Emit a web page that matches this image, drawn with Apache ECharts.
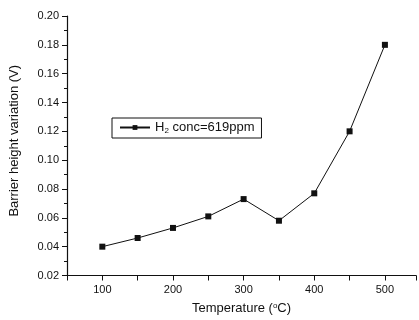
<!DOCTYPE html>
<html><head><meta charset="utf-8">
<script src="https://cdn.jsdelivr.net/npm/echarts@6/dist/echarts.min.js"></script>
<style>html,body{margin:0;padding:0;background:#fff}#c{width:419px;height:320px}</style>
</head><body><div id="c"></div>
<script>
const temperatures = [100, 150, 200, 250, 300, 350, 400, 450, 500];
const barrierHeight = [0.040, 0.046, 0.053, 0.061, 0.073, 0.058, 0.077, 0.120, 0.180];
const seriesName = 'H2 conc=619ppm';
const xTicks = [100, 200, 300, 400, 500];

const chart = echarts.init(document.getElementById('c'));
const font = 'Liberation Sans, Arial, sans-serif';
chart.setOption({
  animation: false,
  backgroundColor: '#fff',
  grid: { left: 67, top: 16, right: 0, bottom: 44 },
  xAxis: {
    type: 'value', min: 50, max: 544, interval: 50,
    name: 'Temperature ({sup|o}C)', nameLocation: 'middle', nameGap: 26,
    nameTextStyle: { color: '#111', fontSize: 13, fontFamily: font, rich: { sup: { fontSize: 8, verticalAlign: 'top', padding: [0,0,6,0], color:'#111' } } },
    axisLine: { show: true, lineStyle: { color: '#111', width: 1.2 } },
    axisTick: { show: true, inside: false, length: 5, lineStyle: { color: '#111' } },
    axisLabel: { color: '#111', fontSize: 11, fontFamily: font, margin: 9,
      formatter: v => xTicks.includes(v) ? String(v) : '' },
    splitLine: { show: false }
  },
  yAxis: {
    type: 'value', min: 0.02, max: 0.20, interval: 0.02,
    name: 'Barrier height variation (V)', nameLocation: 'middle', nameGap: 46,
    nameTextStyle: { color: '#111', fontSize: 13, fontFamily: font, padding: [0, 0, 0, 10] },
    axisLine: { show: true, lineStyle: { color: '#111', width: 1.2 } },
    axisTick: { show: true, inside: false, length: 5, lineStyle: { color: '#111' } },
    minorTick: { show: true, splitNumber: 2, length: 3, lineStyle: { color: '#111' } },
    axisLabel: { color: '#111', fontSize: 11, fontFamily: font, margin: 8,
      formatter: v => v.toFixed(2) },
    splitLine: { show: false }
  },
  legend: {
    left: 112, top: 118, orient: 'horizontal',
    borderColor: '#111', borderWidth: 1, padding: [3, 7, 3, 7],
    itemWidth: 30, itemHeight: 6, itemGap: 3,
    textStyle: { color: '#111', fontSize: 13, fontFamily: font,
      rich: { a: { fontSize: 13, fontFamily: font, color: '#111' },
              s: { fontSize: 8, fontFamily: font, color: '#111', verticalAlign: 'bottom', padding: [7,0,0,0] } } },
    formatter: () => '{a|H}{s|2}{a| conc=619ppm}'
  },
  series: [{
    name: seriesName, type: 'line',
    data: temperatures.map((t, i) => [t, barrierHeight[i]]),
    symbol: 'rect', symbolSize: 6,
    itemStyle: { color: '#111' },
    lineStyle: { color: '#111', width: 1 }
  }]
});
</script></body></html>
